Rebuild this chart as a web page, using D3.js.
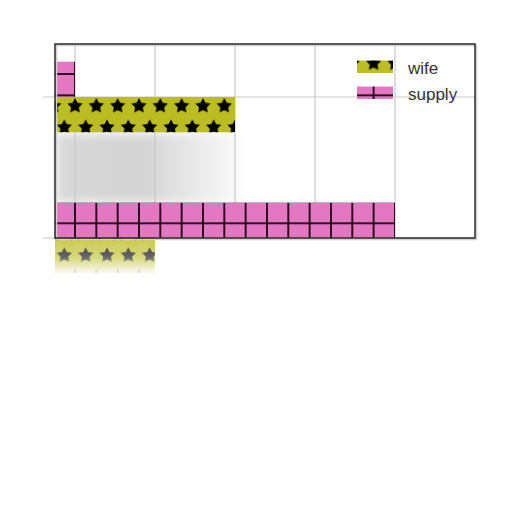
<!DOCTYPE html>
<html><head><meta charset="utf-8">
<script src="https://cdn.jsdelivr.net/npm/d3@7"></script>
<style>html,body{margin:0;padding:0;background:#fff}</style>
</head><body>
<svg id="c" width="512" height="512"></svg>
<script>
// ---- data ----
const categories = ["A", "B"];
const seriesNames = ["wife", "supply"];
const wifeValues = [100, 10];
const supplyValues = [1, 10000];
const xTickValues = [1, 10, 100, 1000, 10000];

// ---- layout ----
const svg = d3.select("#c");
const L = 55, R = 475, T = 44, B = 238;
const x = d3.scaleLog().domain([Math.pow(10, -0.25), 1e5]).range([L, R]);
const y = d3.scalePoint().domain(categories).range([97, 238]);
const barH = 35.3;
const W = 21.33;
const olive = "#bcbd22", pink = "#e377c2";

const defs = svg.append("defs");

// plus hatch (supply)
const pp = defs.append("pattern").attr("id", "plus")
  .attr("patternUnits", "userSpaceOnUse")
  .attr("x", 75 - W / 2).attr("y", 74 - W / 2)
  .attr("width", W).attr("height", W);
pp.append("rect").attr("width", W).attr("height", W).attr("fill", pink);
pp.append("line").attr("x1", W / 2).attr("x2", W / 2).attr("y1", 0).attr("y2", W)
  .attr("stroke", "#1a0010").attr("stroke-width", 1.8);
pp.append("line").attr("y1", W / 2).attr("y2", W / 2).attr("x1", 0).attr("x2", W)
  .attr("stroke", "#1a0010").attr("stroke-width", 1.8);

// star hatch (wife)
function starPath(cx, cy, ro, ri) {
  const pts = [];
  for (let i = 0; i < 10; i++) {
    const r = i % 2 === 0 ? ro : ri;
    const a = -Math.PI / 2 + i * Math.PI / 5;
    pts.push([cx + r * Math.cos(a), cy + r * Math.sin(a)]);
  }
  return "M" + pts.map(p => p.join(",")).join("L") + "Z";
}
const sp = defs.append("pattern").attr("id", "stars")
  .attr("patternUnits", "userSpaceOnUse")
  .attr("x", 75 - W / 2).attr("y", 106 - W / 2)
  .attr("width", W).attr("height", 2 * W);
sp.append("rect").attr("width", W).attr("height", 2 * W).attr("fill", olive);
[[W / 2, W / 2], [0, 1.5 * W], [W, 1.5 * W]].forEach(([cx, cy]) => {
  sp.append("path").attr("d", starPath(cx, cy, 8, 4.1)).attr("fill", "#000");
});

// fade gradient for the area below the axes
const fg = defs.append("linearGradient").attr("id", "fade")
  .attr("x1", 0).attr("x2", 0).attr("y1", 0).attr("y2", 1);
fg.append("stop").attr("offset", "0").attr("stop-color", "#fff").attr("stop-opacity", 0.2);
fg.append("stop").attr("offset", "0.5").attr("stop-color", "#fff").attr("stop-opacity", 0.4);
fg.append("stop").attr("offset", "1").attr("stop-color", "#fff").attr("stop-opacity", 1);

// grey smudge gradient
const sg = defs.append("linearGradient").attr("id", "smudge")
  .attr("x1", 0).attr("x2", 1).attr("y1", 0).attr("y2", 0);
sg.append("stop").attr("offset", "0").attr("stop-color", "#d8d8d8");
sg.append("stop").attr("offset", "0.45").attr("stop-color", "#d4d4d4");
sg.append("stop").attr("offset", "0.8").attr("stop-color", "#eeeeee");
sg.append("stop").attr("offset", "1").attr("stop-color", "#fff");
const blur = defs.append("filter").attr("id", "blur")
  .attr("x", "-10%").attr("y", "-10%").attr("width", "120%").attr("height", "120%");
blur.append("feGaussianBlur").attr("stdDeviation", 4);

svg.append("rect").attr("x", L + 2).attr("y", 134).attr("width", 190).attr("height", 68)
  .attr("fill", "url(#smudge)").attr("filter", "url(#blur)");

// ---- grid ----
const grid = svg.append("g").attr("stroke", "#c8c8c8").attr("stroke-width", 1.2);
grid.selectAll("line.v").data(xTickValues).enter().append("line")
  .attr("x1", d => x(d)).attr("x2", d => x(d)).attr("y1", T).attr("y2", B);
grid.selectAll("line.h").data(categories).enter().append("line")
  .attr("x1", L - 12).attr("x2", R).attr("y1", d => y(d)).attr("y2", d => y(d));

// ---- bars ----
const bars = svg.append("g");
bars.selectAll("rect.supply").data(categories).enter().append("rect")
  .attr("x", L).attr("y", d => y(d) - barH)
  .attr("width", (d, i) => x(supplyValues[i]) - L).attr("height", barH)
  .attr("fill", "url(#plus)");
bars.selectAll("rect.wife").data(categories).enter().append("rect")
  .attr("x", L).attr("y", d => y(d))
  .attr("width", (d, i) => x(wifeValues[i]) - L).attr("height", barH)
  .attr("fill", "url(#stars)");

// fade below the axes
svg.append("rect").attr("x", 40).attr("y", B + 1).attr("width", 220).attr("height", 36)
  .attr("fill", "url(#fade)");

// ---- frame ----
svg.append("rect").attr("x", L + 1.5).attr("y", T + 1.5).attr("width", R - L).attr("height", B - T)
  .attr("fill", "none").attr("stroke", "#d0d0d0").attr("stroke-width", 1.5);
svg.append("rect").attr("x", L).attr("y", T).attr("width", R - L).attr("height", B - T)
  .attr("fill", "none").attr("stroke", "#333").attr("stroke-width", 1.6);

// ---- legend ----
const lg = svg.append("g");
const legendFills = ["url(#stars)", "url(#plus)"];
const legendRows = [60.5, 86.5];
seriesNames.forEach((name, i) => {
  lg.append("rect").attr("x", 357).attr("y", legendRows[i]).attr("width", 36).attr("height", 12.5)
    .attr("fill", legendFills[i]);
  lg.append("text").attr("x", 408).attr("y", legendRows[i] + 13.5)
    .attr("font-family", "Liberation Sans, Arial, sans-serif").attr("font-size", 17)
    .attr("fill", "#333").text(name);
});
</script>
</body></html>
